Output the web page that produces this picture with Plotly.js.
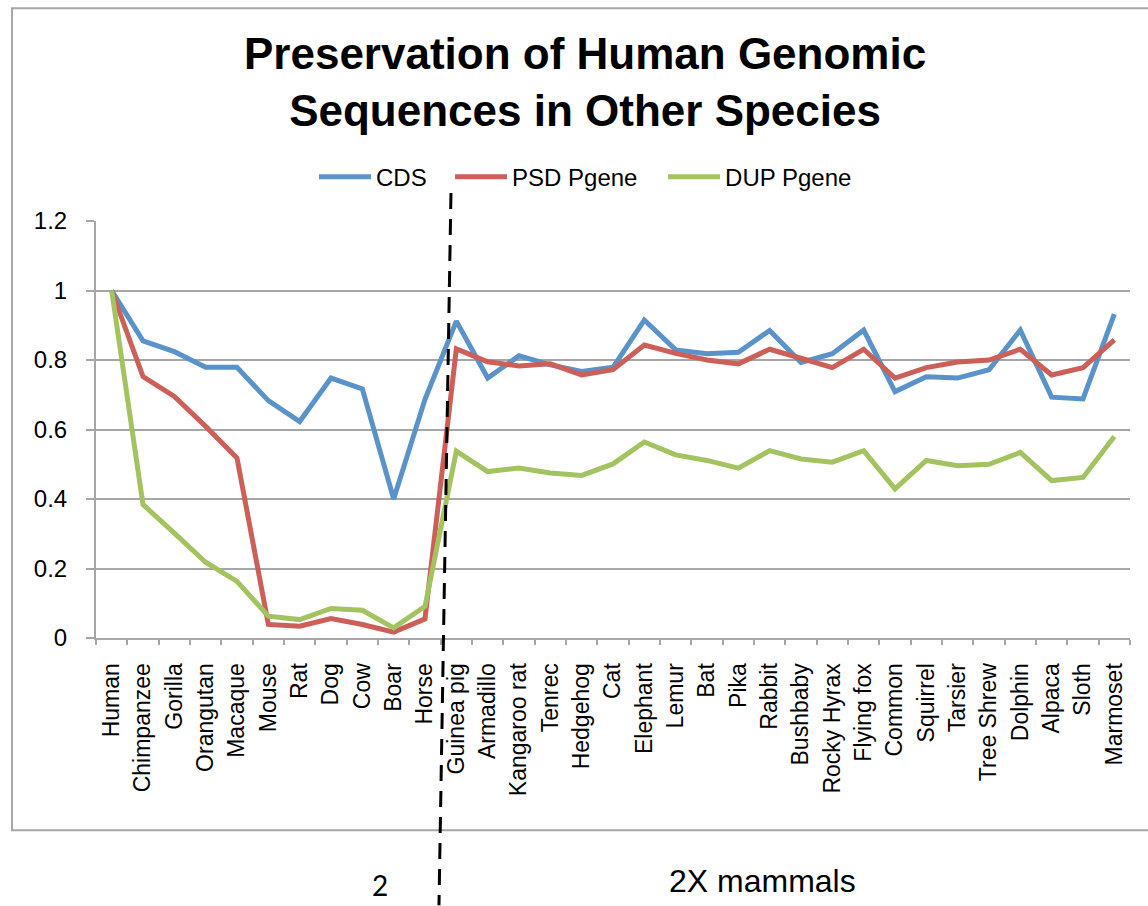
<!DOCTYPE html>
<html>
<head>
<meta charset="utf-8">
<script src="https://cdn.plot.ly/plotly-3.0.1.min.js"></script>
<style>html,body{margin:0;padding:0;background:#fff;}#chart{width:1148px;height:906px;}</style>
</head>
<body>
<div id="chart"></div>
<script>
const categories = ["Human","Chimpanzee","Gorilla","Orangutan","Macaque","Mouse","Rat","Dog","Cow","Boar","Horse","Guinea pig","Armadillo","Kangaroo rat","Tenrec","Hedgehog","Cat","Elephant","Lemur","Bat","Pika","Rabbit","Bushbaby","Rocky Hyrax","Flying fox","Common","Squirrel","Tarsier","Tree Shrew","Dolphin","Alpaca","Sloth","Marmoset"];
const cds = [1.0,0.855,0.824,0.779,0.779,0.683,0.623,0.748,0.717,0.40,0.687,0.912,0.748,0.812,0.786,0.767,0.779,0.915,0.829,0.818,0.822,0.885,0.793,0.818,0.886,0.709,0.752,0.748,0.772,0.886,0.693,0.688,0.932];
const psdPgene = [1.0,0.752,0.695,0.609,0.518,0.039,0.034,0.056,0.039,0.017,0.055,0.832,0.795,0.783,0.789,0.757,0.772,0.843,0.819,0.800,0.789,0.831,0.805,0.778,0.831,0.748,0.778,0.794,0.800,0.831,0.757,0.778,0.858];
const dupPgene = [1.0,0.384,0.302,0.218,0.163,0.063,0.053,0.085,0.080,0.029,0.091,0.538,0.479,0.489,0.475,0.468,0.501,0.564,0.527,0.511,0.489,0.539,0.515,0.506,0.539,0.429,0.511,0.496,0.500,0.534,0.453,0.462,0.580];
const seriesNames = ["CDS","PSD Pgene","DUP Pgene"];
const titleText = "Preservation of Human Genomic<br>Sequences in Other Species";
const yTicks = [0,0.2,0.4,0.6,0.8,1,1.2];

const FONT = "Liberation Sans, Arial, sans-serif";
const colors = ["#5a93c9","#cd5f59","#a3c360"];
const series = [cds, psdPgene, dupPgene];
const legendIds = ["legend","legend2","legend3"];
const legendX = [0.2108, 0.3424, 0.5484];

const traces = series.map((s,i)=>({
  type:"scatter", mode:"lines", x:categories, y:s, name:seriesNames[i],
  line:{color:colors[i], width:5}, legend:legendIds[i]
}));

function legendCfg(x){
  return {orientation:"h", x:x, xanchor:"left", y:1.105, yanchor:"middle", yref:"paper",
          font:{family:FONT, size:24, color:"#000"}, itemwidth:52, bgcolor:"rgba(0,0,0,0)"};
}

const layout = {
  width:1148, height:906,
  margin:{l:96, r:18, t:221, b:267.5},
  paper_bgcolor:"#fff", plot_bgcolor:"#fff",
  font:{family:FONT, color:"#000"},
  title:{text:titleText, font:{family:FONT, size:44, weight:"bold", color:"#000"},
         xref:"paper", x:0.473, xanchor:"center", yref:"container", y:0.924, yanchor:"top"},
  showlegend:true,
  legend:legendCfg(legendX[0]),
  legend2:legendCfg(legendX[1]),
  legend3:legendCfg(legendX[2]),
  xaxis:{type:"category", range:[-0.5, categories.length-0.5], tickangle:-90,
         tickfont:{family:FONT, size:23, color:"#000"}, showline:true, linecolor:"#a6a6a6", linewidth:2,
         ticks:"outside", ticklen:5, tickcolor:"#a6a6a6", tickwidth:2, tickson:"boundaries",
         showgrid:false, zeroline:false, ticklabelstandoff:14, automargin:false},
  yaxis:{range:[0,1.2], tickvals:yTicks, ticktext:yTicks.map(String),
         tickfont:{family:FONT, size:24, color:"#000"}, showline:true, linecolor:"#a6a6a6", linewidth:2,
         ticks:"outside", ticklen:8, tickcolor:"#a6a6a6", tickwidth:2,
         showgrid:true, gridcolor:"#a6a6a6", gridwidth:2, zeroline:false, ticklabelstandoff:14, automargin:false},
  shapes:[
    {type:"rect", xref:"paper", yref:"paper", x0:-0.0812, x1:1.2, y0:-0.461, y1:1.510,
     line:{color:"#a6a6a6", width:2}, fillcolor:"rgba(0,0,0,0)", layer:"below"},
    {type:"line", xref:"paper", yref:"paper", x0:0.3433, y0:1.067, x1:0.3317, y1:-0.6407,
     line:{color:"#000", width:3, dash:"16px,10px"}}
  ],
  annotations:[
    {text:"2X mammals", xref:"paper", yref:"paper", x:(762-96)/1034, y:(638.5-882)/417.5,
     xanchor:"center", yanchor:"middle", showarrow:false, font:{family:FONT, size:32, color:"#000"}},
    {text:"2", xref:"paper", yref:"paper", x:(380-96)/1034, y:(638.5-886)/417.5,
     xanchor:"center", yanchor:"middle", showarrow:false, font:{family:"Lato, Open Sans, sans-serif", size:28, color:"#000"}}
  ]
};

Plotly.newPlot("chart", traces, layout, {staticPlot:true, displayModeBar:false});
</script>
</body>
</html>
